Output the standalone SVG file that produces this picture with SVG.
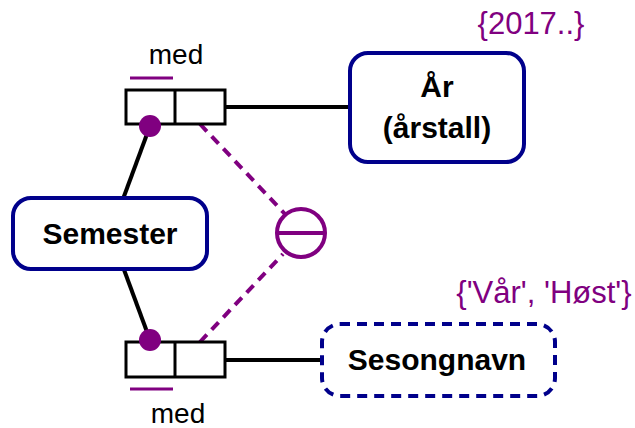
<svg xmlns="http://www.w3.org/2000/svg" width="635" height="428" viewBox="0 0 635 428">
<style>
.ent{fill:#fff;stroke:#00008B;stroke-width:4}
.dash{stroke-dasharray:10 7}
.lbl{font-family:"Liberation Sans",Arial,sans-serif;font-weight:bold;font-size:30px;fill:#000;text-anchor:middle}
.med{font-family:"Liberation Sans",Arial,sans-serif;font-size:28px;fill:#000;text-anchor:middle}
.val{font-family:"Liberation Sans",Arial,sans-serif;font-size:31px;fill:#800080;text-anchor:middle}
.role{fill:#fff;stroke:#000;stroke-width:3}
.ln{stroke:#000;stroke-width:4;fill:none}
.pd{stroke:#800080;stroke-width:4;fill:none;stroke-dasharray:10 7}
</style>
<rect width="635" height="428" fill="#fff"/>
<g id="connectors">
<line class="ln" x1="150" y1="126" x2="123" y2="199"/>
<line class="ln" x1="123" y1="267" x2="150" y2="340"/>
<line class="ln" x1="225" y1="107" x2="352" y2="107"/>
<line class="ln" x1="225" y1="360" x2="322" y2="360"/>
<line class="pd" x1="200" y1="124" x2="285" y2="214"/>
<line class="pd" x1="200" y1="342" x2="283" y2="254"/>
</g>
<g id="semester">
<rect class="ent" x="13" y="198" width="194" height="71" rx="18"/>
<text class="lbl" x="110" y="244">Semester</text>
</g>
<g id="aar">
<rect class="ent" x="350" y="53" width="174" height="109" rx="18"/>
<text class="lbl" x="437" y="97">År</text>
<text class="lbl" x="437" y="138">(årstall)</text>
<text class="val" x="531" y="34">{2017..}</text>
</g>
<g id="sesongnavn">
<rect class="ent dash" x="322" y="324" width="233" height="72" rx="18"/>
<text class="lbl" x="437" y="370">Sesongnavn</text>
<text class="val" x="544" y="303">{'Vår', 'Høst'}</text>
</g>
<g id="role-top">
<rect class="role" x="126" y="90" width="99" height="34"/>
<line class="role" x1="175" y1="90" x2="175" y2="124"/>
<line stroke="#800080" stroke-width="3" x1="130" y1="78" x2="173" y2="78"/>
<text class="med" x="176" y="64">med</text>
<circle cx="150" cy="126" r="11" fill="#800080"/>
</g>
<g id="role-bottom">
<rect class="role" x="126" y="342" width="99" height="35"/>
<line class="role" x1="175" y1="342" x2="175" y2="377"/>
<line stroke="#800080" stroke-width="3" x1="130" y1="389" x2="173" y2="389"/>
<text class="med" x="178" y="423">med</text>
<circle cx="150" cy="340" r="11" fill="#800080"/>
</g>
<g id="exclusion">
<circle cx="301" cy="233" r="24" fill="#fff" stroke="#800080" stroke-width="4"/>
<line x1="278" y1="233" x2="324" y2="233" stroke="#800080" stroke-width="4"/>
</g>
</svg>
